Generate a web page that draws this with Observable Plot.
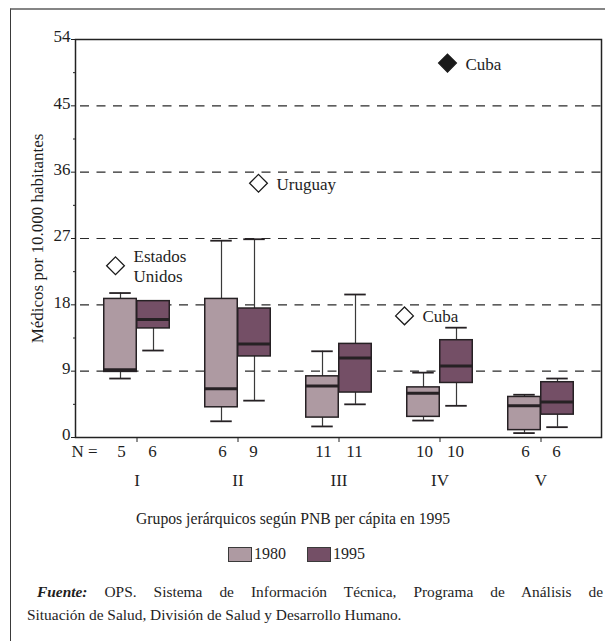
<!DOCTYPE html>
<html>
<head>
<meta charset="utf-8">
<script src="https://cdn.jsdelivr.net/npm/d3@7"></script>
<script src="https://cdn.jsdelivr.net/npm/@observablehq/plot@0.6"></script>
<style>
  html, body { margin: 0; padding: 0; background: #fff; }
  #page { position: relative; width: 605px; height: 641px; overflow: hidden; font-family: "Liberation Serif", serif; color: #1e1e1e; }
  #border { position: absolute; left: 10px; top: 8px; width: 620px; height: 660px; border-top: 2px solid #858585; border-left: 1px solid #3a3a3a; }
  #chart { position: absolute; left: 0; top: 0; }
  #chart svg, #chart svg text { font-family: "Liberation Serif", serif !important; }
  #xtitle { position: absolute; left: 136px; top: 509px; font-size: 15.7px; line-height: 20px; white-space: nowrap; }
  #legend { position: absolute; left: 228px; top: 544px; font-size: 16px; line-height: 20px; display: flex; align-items: center; white-space: nowrap; }
  #legend .sw { width: 22px; height: 13px; border: 1px solid #3a3a3a; margin-right: 2px; }
  #legend .item { display: flex; align-items: center; margin-right: 21px; }
  .cap { position: absolute; font-size: 15.4px; line-height: 20px; white-space: nowrap; }
  #cap1 { left: 37px; top: 582px; width: 566px; text-align: justify; text-align-last: justify; }
  #cap2 { left: 27px; top: 605px; }
</style>
</head>
<body>
<div id="page">
  <div id="border"></div>
  <div id="chart"></div>
  <div id="xtitle">Grupos jerárquicos según PNB per cápita en 1995</div>
  <div id="legend"></div>
  <div class="cap" id="cap1"><b><i>Fuente:</i></b> OPS. Sistema de Información Técnica, Programa de Análisis de</div>
  <div class="cap" id="cap2">Situación de Salud, División de Salud y Desarrollo Humano.</div>
</div>
<script>
// Médicos por 10.000 habitantes, by GNP-per-capita group (1980 vs 1995)
const groups = ["I", "II", "III", "IV", "V"];
const years = ["1980", "1995"];
const yearColors = ["#ae9aa2", "#744f66"];

const n1980 = [5, 6, 11, 10, 6];
const min1980 = [8.0, 2.2, 1.5, 2.3, 0.6];
const q1_1980 = [8.9, 4.1, 2.7, 2.8, 1.0];
const med1980 = [9.2, 6.6, 7.0, 6.0, 4.3];
const q3_1980 = [18.8, 18.8, 8.3, 6.8, 5.5];
const max1980 = [19.6, 26.7, 11.7, 8.8, 5.8];

const n1995 = [6, 9, 11, 10, 6];
const min1995 = [11.8, 5.0, 4.5, 4.3, 1.4];
const q1_1995 = [14.8, 11.0, 6.1, 7.4, 3.1];
const med1995 = [16.0, 12.7, 10.8, 9.7, 4.8];
const q3_1995 = [18.5, 17.5, 12.7, 13.2, 7.5];
const max1995 = [18.5, 26.9, 19.4, 14.9, 8.0];

// outlying countries
const outlierNames = ["Estados\nUnidos", "Uruguay", "Cuba", "Cuba"];
const outlierGroups = ["I", "II", "IV", "IV"];
const outlierYears = ["1980", "1995", "1980", "1995"];
const outlierValues = [23.3, 34.5, 16.5, 50.8];
const outlierExtreme = [false, false, false, true];

const yTicks = [0, 9, 18, 27, 36, 45, 54];
const yMinorTicks = [4.5, 13.5, 22.5, 31.5, 40.5, 49.5];
const gridLines = [9, 18, 27, 36, 45];

// tidy rows for the boxes
const stats = {
  "1980": {n: n1980, min: min1980, q1: q1_1980, med: med1980, q3: q3_1980, max: max1980},
  "1995": {n: n1995, min: min1995, q1: q1_1995, med: med1995, q3: q3_1995, max: max1995}
};
const rows = years.map(year => groups.map((group, i) => ({
  group, year,
  n: stats[year].n[i], min: stats[year].min[i], q1: stats[year].q1[i],
  med: stats[year].med[i], q3: stats[year].q3[i], max: stats[year].max[i]
}))).flat();
const outliers = outlierNames.map((name, i) => ({
  name, group: outlierGroups[i], year: outlierYears[i], value: outlierValues[i], extreme: outlierExtreme[i]
}));

// geometry of the paired boxes within each band
const step = 101.5, boxW = 33, capW = 22, half = step / 2;
const side = {
  "1980": {dx: -boxW / 2, boxL: half - boxW, boxR: half, capL: half - boxW / 2 - capW / 2, capR: half + boxW / 2 - capW / 2},
  "1995": {dx: boxW / 2, boxL: half, boxR: half - boxW, capL: half + boxW / 2 - capW / 2, capR: half - boxW / 2 - capW / 2}
};
const ink = "#262124";
const serif = "Liberation Serif";

const marks = [
  Plot.ruleY(gridLines, {stroke: "#2a2a2a", strokeWidth: 1.2, strokeDasharray: "9,7.5", strokeDashoffset: -5})
];

years.forEach((year, k) => {
  const data = rows.filter(d => d.year === year);
  const s = side[year];
  marks.push(
    Plot.ruleX(data, {x: "group", y1: "min", y2: "max", dx: s.dx, stroke: "#3a3a3a", strokeWidth: 1.2}),
    Plot.tickY(data, {x: "group", y: "min", insetLeft: s.capL, insetRight: s.capR, stroke: ink, strokeWidth: 1.8}),
    Plot.tickY(data, {x: "group", y: "max", insetLeft: s.capL, insetRight: s.capR, stroke: ink, strokeWidth: 1.8}),
    Plot.barY(data, {x: "group", y1: "q1", y2: "q3", insetLeft: s.boxL, insetRight: s.boxR,
      fill: yearColors[k], stroke: ink, strokeWidth: 1.5}),
    Plot.tickY(data, {x: "group", y: "med", insetLeft: s.boxL, insetRight: s.boxR, stroke: ink, strokeWidth: 3}),
    // sample sizes under each box
    Plot.text(data, {x: "group", text: "n", frameAnchor: "bottom", dy: 14, dx: year === "1980" ? -15.5 : 15.5,
      lineAnchor: "middle", textAnchor: "middle", fontSize: 17, fontFamily: serif})
  );
});

// outlier diamonds with a small sideways nudge each
const nudges = [-5, 4, -19, -9];
outliers.forEach((o, i) => {
  const dx = side[o.year].dx + nudges[i];
  marks.push(
    Plot.dot([o], {x: "group", y: "value", dx, symbol: "diamond2", r: 8,
      fill: o.extreme ? "#1a1a1a" : "white", stroke: "#1a1a1a", strokeWidth: 1.3}),
    Plot.text([o], {x: "group", y: "value", text: "name", dx: dx + 18, textAnchor: "start",
      lineAnchor: "middle", lineHeight: 1.2, fontSize: 17, fontFamily: serif})
  );
});

marks.push(
  Plot.frame({stroke: "#222", strokeWidth: 1.5}),
  // major and minor y ticks; the numbers are set as text just above each major tick
  Plot.axisY({ticks: yTicks, tickSize: 4, tickFormat: () => "", label: null, stroke: "#222"}),
  Plot.axisY({ticks: yMinorTicks, tickSize: 2, tickFormat: () => "", label: null, stroke: "#222"}),
  Plot.text(yTicks, {y: d => d, text: d => String(d), frameAnchor: "left", dx: -5, dy: -2.5,
    textAnchor: "end", lineAnchor: "middle", fontSize: 17, fontFamily: serif}),
  Plot.axisX({tickSize: 5, tickPadding: 31, fontSize: 17, fontFamily: serif, label: null, stroke: "#222", fill: "#1e1e1e"}),
  Plot.text(["N ="], {frameAnchor: "bottom-left", dx: 22, dy: 14, textAnchor: "end", lineAnchor: "middle",
    fontSize: 17, fontFamily: serif}),
  Plot.text(["Médicos por 10.000 habitantes"], {frameAnchor: "left", dx: -38, rotate: -90,
    textAnchor: "middle", lineAnchor: "middle", fontSize: 17, fontFamily: serif})
);

const chart = Plot.plot({
  width: 605,
  height: 495,
  marginTop: 39,
  marginBottom: 58,
  marginLeft: 75,
  marginRight: 4,
  style: {fontFamily: serif, fontSize: "17px", color: "#1e1e1e", background: "transparent"},
  x: {type: "band", domain: groups, paddingInner: 0, paddingOuter: 0.091},
  y: {domain: [0, 54]},
  marks
});
document.getElementById("chart").appendChild(chart);

// legend for the two years
const legend = document.getElementById("legend");
years.forEach((year, k) => {
  const item = document.createElement("div");
  item.className = "item";
  const sw = document.createElement("div");
  sw.className = "sw";
  sw.style.background = yearColors[k];
  const label = document.createElement("span");
  label.textContent = year;
  item.append(sw, label);
  legend.appendChild(item);
});
</script>
</body>
</html>
